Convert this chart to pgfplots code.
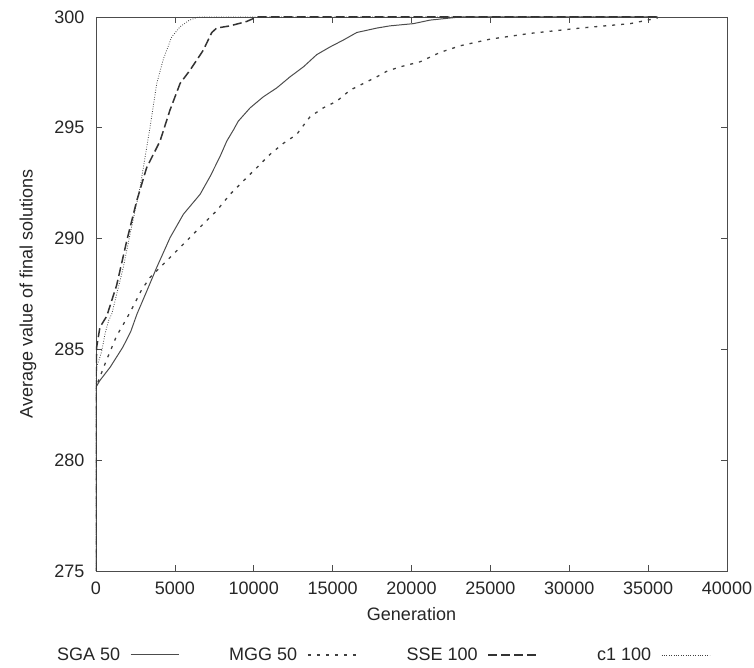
\documentclass[border=0pt]{standalone}
\usepackage{pgfplots}
\pgfplotsset{compat=1.18}
\usepackage{fontspec}
\setmainfont{Liberation Sans}
\begin{document}
\begin{tikzpicture}[font=\fontsize{18}{21}\selectfont]
\path[use as bounding box] (-96pt,-97pt) rectangle (658pt,571pt);
\begin{axis}[
  at={(0,0)}, anchor=south west,
  scale only axis, width=631pt, height=554pt,
  xmin=0, xmax=40000, ymin=275, ymax=300,
  xtick={0,5000,...,40000}, ytick={275,280,...,300},
  scaled x ticks=false,
  /pgf/number format/assume math mode=true,
  /pgf/number format/1000 sep={},
  every tick label/.append style={text=black!85},
  xticklabel style={yshift=-7pt},
  yticklabel style={xshift=-8pt},
  tick align=inside, major tick length=6pt,
  tick style={color=black!70, line width=0.7pt},
  axis line style={color=black!70, line width=0.8pt},
  xlabel={Generation},
  ylabel={Average value of final solutions},
  label style={text=black!85},
  x label style={at={(axis description cs:0.5,-0.0776)}, anchor=center},
  y label style={at={(axis description cs:-0.108,0.5)}, anchor=center},
  legend columns=4, legend plot pos=right,
  legend style={at={(axis description cs:-0.0618,-0.1516)}, anchor=west,
    draw=none, fill=none, inner sep=0pt, text=black!85,
    /tikz/every odd column/.append style={column sep=10pt},
    /tikz/every even column/.append style={column sep=50pt},
    nodes={inner sep=0pt}},
  legend image code/.code={\draw[#1] (0pt,0pt) -- (48pt,0pt);},
]
\addplot[black!70, line width=1pt] coordinates {
(0,275)(0,283.3)(250,283.6)(900,284.2)(1700,285.1)(2200,285.8)(2600,286.6)
(3200,287.6)(3850,288.7)(4700,290.05)(5540,291.1)(6600,292.0)(7230,292.8)
(7860,293.7)(8290,294.4)(8710,294.9)(9020,295.3)(9770,295.9)(10610,296.4)
(11460,296.8)(12300,297.3)(13150,297.75)(13990,298.3)(14840,298.65)
(15680,298.96)(16530,299.3)(17800,299.5)(18640,299.6)(20120,299.7)
(21180,299.86)(23080,300)(35600,300)};
\addlegendentry{SGA 50}
\addplot[black!75, line width=1.3pt, dash pattern=on 3pt off 6pt] coordinates {
(0,275)(0,283.3)(600,284.4)(1300,285.6)(1950,286.4)(2400,287.0)(2900,287.7)
(3420,288.24)(4270,288.85)(5120,289.45)(5960,290.05)(6800,290.66)(7650,291.26)
(8500,292.0)(9340,292.6)(10190,293.2)(11030,293.8)(11880,294.3)(12720,294.7)
(13570,295.5)(14410,295.9)(15260,296.2)(16110,296.7)(16950,297.0)(17800,297.3)
(18430,297.55)(19280,297.75)(20550,297.98)(21810,298.4)(23080,298.7)
(24980,299.0)(27520,299.26)(30690,299.5)(33860,299.7)(35600,299.95)};
\addlegendentry{MGG 50}
\addplot[black!80, line width=1.5pt, dash pattern=on 9pt off 4pt] coordinates {
(0,275)(0,283.3)(40,285.1)(250,286.0)(680,286.5)(1310,287.9)(1950,289.9)
(2580,291.7)(3210,293.2)(4060,294.4)(4690,295.8)(5330,297.0)(5960,297.6)
(6800,298.5)(7340,299.3)(7650,299.5)(8500,299.6)(9560,299.8)(10190,300)(35600,300)};
\addlegendentry{SSE 100}
\addplot[black!75, line width=0.8pt, dash pattern=on 0.8pt off 1.6pt] coordinates {
(0,275)(0,283.3)(40,284.2)(360,284.9)(570,285.7)(800,286.3)(1000,286.6)
(1730,288.7)(2160,290.2)(2790,292.3)(3420,295.0)(3850,297.0)(4270,298.1)
(4800,299.1)(5330,299.56)(5900,299.85)(6500,300)(35600,300)};
\addlegendentry{\hspace{10pt}c1 100}
\end{axis}
\end{tikzpicture}
\end{document}
